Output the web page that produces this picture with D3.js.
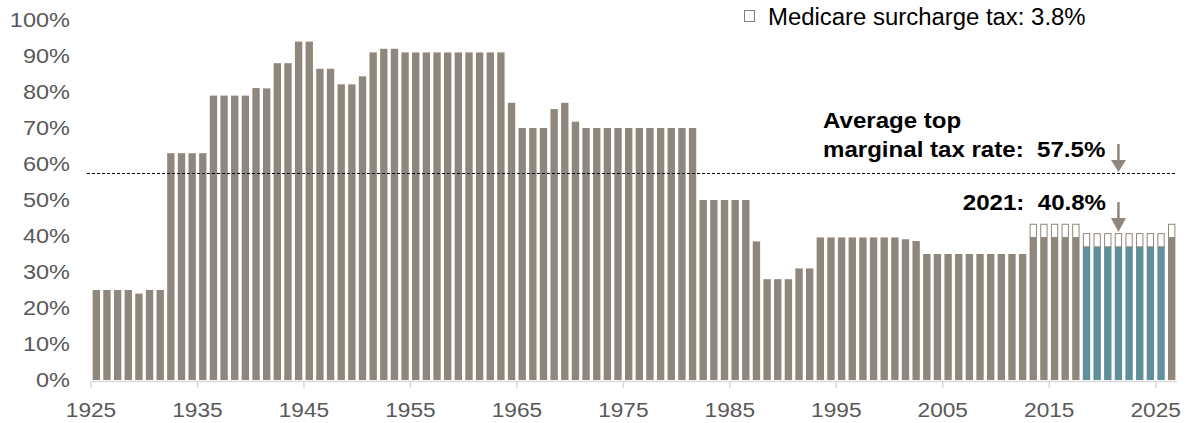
<!DOCTYPE html>
<html>
<head>
<meta charset="utf-8">
<script src="https://cdn.jsdelivr.net/npm/d3@7"></script>
<style>
  html, body { margin: 0; padding: 0; background: #fff; }
  svg { display: block; font-family: Arial, "Liberation Sans", sans-serif; }
  text { white-space: pre; }
</style>
</head>
<body>
<div id="chart"></div>
<script>
/*
 *  DATA
 */
var years = d3.range(1925, 2027);

// top federal marginal income tax rate, 1925 .. 2026
var rates = [
    25, 25, 25, 25, 24, 25, 25,
    63, 63, 63, 63,
    79, 79, 79, 79,
    81.1, 81,
    88, 88,
    94, 94,
    86.45, 86.45,
    82.13, 82.13,
    84.36,
    91, 92, 92,
    91, 91, 91, 91, 91, 91, 91, 91, 91, 91,
    77,
    70, 70, 70,
    75.25, 77, 71.75,
    70, 70, 70, 70, 70, 70, 70, 70, 70, 70, 70,
    50, 50, 50, 50, 50,
    38.5,
    28, 28, 28,
    31, 31,
    39.6, 39.6, 39.6, 39.6, 39.6, 39.6, 39.6, 39.6,
    39.1, 38.6,
    35, 35, 35, 35, 35, 35, 35, 35, 35, 35,
    39.6, 39.6, 39.6, 39.6, 39.6,
    37, 37, 37, 37, 37, 37, 37, 37,
    39.6
];

var medicareYears = [2013, 2014, 2015, 2016, 2017, 2018, 2019, 2020, 2021, 2022, 2023, 2024, 2025, 2026];
var medicareRate = 3.8;
var highlightYears = [2018, 2019, 2020, 2021, 2022, 2023, 2024, 2025];
var averageRate = 57.5;
var calloutYear = 2021;

var yTicks = [0, 10, 20, 30, 40, 50, 60, 70, 80, 90, 100];
var xTicks = [1925, 1935, 1945, 1955, 1965, 1975, 1985, 1995, 2005, 2015, 2025];

var data = years.map(function(yr, i) {
    return {
        year: yr,
        rate: rates[i],
        medicare: medicareYears.indexOf(yr) >= 0 ? medicareRate : 0,
        highlight: highlightYears.indexOf(yr) >= 0
    };
});

/*
 *  LAYOUT
 */
var view_width = 1188;
var view_height = 423;

var grey = "#8f877b";
var teal = "#5f8f99";

var svg = d3.select('#chart')
    .append('svg')
        .attr('width', view_width)
        .attr('height', view_height);

var x_scale = d3.scaleBand()
    .domain(years)
    .range([91, 1177])
    .paddingInner(0.31)
    .paddingOuter(0.155);

var step = x_scale.step();

var y_scale = d3.scaleLinear()
    .domain([0, 100])
    .range([380, 20]);

// text is a little wider than its height in the reference, so stretch it
function label(x, y, str, size, sx, anchor, weight, fill) {
    return svg.append('text')
        .attr('transform', 'translate(' + x + ',' + y + ') scale(' + sx + ',1)')
        .attr('text-anchor', anchor)
        .attr('font-size', size)
        .attr('font-weight', weight)
        .attr('fill', fill)
        .text(str);
}

/*
 *  AXES
 */
yTicks.forEach(function(t) {
    label(70, y_scale(t) + 7.4, t + '%', 21, 1.12, 'end', 'normal', '#595959');
});

var x_left = x_scale(years[0]) - x_scale.step() * x_scale.paddingOuter();
var x_right = x_left + step * years.length;

svg.append('line')
    .attr('x1', x_left)
    .attr('x2', x_right)
    .attr('y1', 381.5)
    .attr('y2', 381.5)
    .attr('stroke', '#d9d9d9')
    .attr('stroke-width', 1.5);

xTicks.forEach(function(t) {
    var tx = x_left + step * years.indexOf(t);
    svg.append('line')
        .attr('x1', tx).attr('x2', tx)
        .attr('y1', 381).attr('y2', 388)
        .attr('stroke', '#d9d9d9')
        .attr('stroke-width', 1.5);
    label(tx, 417, String(t), 21, 1.08, 'middle', 'normal', '#595959');
});

/*
 *  BARS
 */
svg.selectAll('.bar')
    .data(data)
    .enter()
    .append('rect')
    .attr('class', 'bar')
    .attr('x', function(d) { return x_scale(d.year); })
    .attr('width', x_scale.bandwidth())
    .attr('y', function(d) { return y_scale(d.rate); })
    .attr('height', function(d) { return y_scale(0) - y_scale(d.rate); })
    .attr('fill', function(d) { return d.highlight ? teal : grey; });

svg.selectAll('.medicare')
    .data(data.filter(function(d) { return d.medicare > 0; }))
    .enter()
    .append('rect')
    .attr('class', 'medicare')
    .attr('x', function(d) { return x_scale(d.year) + 0.5; })
    .attr('width', x_scale.bandwidth() - 1)
    .attr('y', function(d) { return y_scale(d.rate + d.medicare) + 0.5; })
    .attr('height', function(d) { return y_scale(d.rate) - y_scale(d.rate + d.medicare) - 0.5; })
    .attr('fill', '#fff')
    .attr('stroke', grey)
    .attr('stroke-width', 1);

/*
 *  AVERAGE LINE + ANNOTATIONS
 */
var avg_y = Math.round(y_scale(averageRate)) + 0.5;

svg.append('line')
    .attr('x1', 87)
    .attr('x2', x_right)
    .attr('y1', avg_y)
    .attr('y2', avg_y)
    .attr('stroke', '#000')
    .attr('stroke-width', 1)
    .style('stroke-dasharray', '3, 2');

var arrow_x = x_scale(calloutYear) + x_scale.bandwidth() / 2;

function arrow(x, tipY, head) {
    svg.append('line')
        .attr('x1', x).attr('x2', x)
        .attr('y1', tipY - head - 16).attr('y2', tipY - head + 1)
        .attr('stroke', grey)
        .attr('stroke-width', 2.5);
    svg.append('path')
        .attr('d', 'M' + (x - 7.5) + ',' + (tipY - head) + 'L' + (x + 7.5) + ',' + (tipY - head) + 'L' + x + ',' + tipY + 'Z')
        .attr('fill', grey);
}

arrow(arrow_x, y_scale(averageRate) - 1, 12);
arrow(arrow_x, y_scale(rates[years.indexOf(calloutYear)] + medicareRate) - 1, 14);

label(823, 128, 'Average top', 22.5, 1.07, 'start', 'bold', '#000');
label(823, 157, 'marginal tax rate:  ' + averageRate + '%', 22.5, 1.07, 'start', 'bold', '#000');
label(1106, 210, calloutYear + ':  ' + (rates[years.indexOf(calloutYear)] + medicareRate).toFixed(1) + '%', 22.5, 1.07, 'end', 'bold', '#000');

/*
 *  LEGEND
 */
svg.append('rect')
    .attr('x', 744.5)
    .attr('y', 10.5)
    .attr('width', 10)
    .attr('height', 11)
    .attr('fill', '#fff')
    .attr('stroke', '#7f7f7f')
    .attr('stroke-width', 1);

label(768, 25, 'Medicare surcharge tax: ' + medicareRate + '%', 23, 1.04, 'start', 'normal', '#000');
</script>
</body>
</html>
